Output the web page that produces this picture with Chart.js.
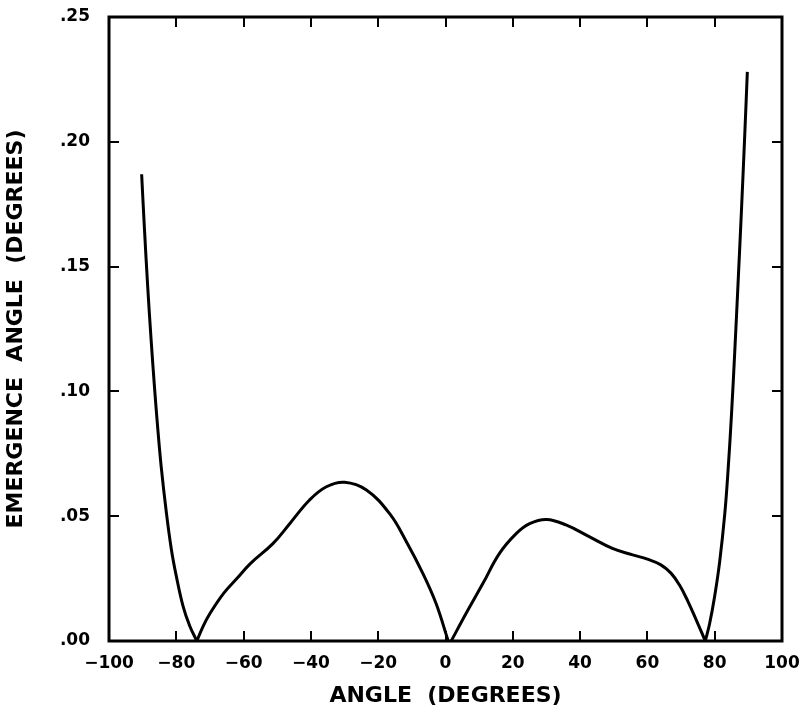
<!DOCTYPE html>
<html>
<head>
<meta charset="utf-8">
<script src="https://cdn.jsdelivr.net/npm/chart.js@4/dist/chart.umd.min.js"></script>
<style>
  html, body { margin: 0; padding: 0; background: #fff; }
  #wrap { width: 807px; height: 716px; }
</style>
</head>
<body>
<div id="wrap"><canvas id="myChart"></canvas></div>
<script>
// values; zeros mark the cusps
const angles = [
  -90.3, -89.5, -88.5, -87.5, -86.5, -85.5, -84.5, -83.0, -81.5, -80.0, -78.0, -76.0, -73.9,
  -72.0, -70.0, -66.0, -62.0, -58.0, -51.3, -46.3, -40.4, -35.4, -30.0,
  -23.5, -16.6, -11.7, -6.7, -2.8, 0.8,
  1.7, 6.1, 11.1, 16.0, 21.0, 25.0, 30.0, 35.8, 42.7, 49.6, 55.6, 60.0, 64.0,
  67.0, 69.5, 72.0, 74.5, 77.2,
  78.5, 80.0, 81.5, 83.0, 84.0, 85.0, 86.0, 87.0, 88.0, 89.0, 89.7
];
const emergence = [
  0.187, 0.166, 0.142, 0.121, 0.102, 0.085, 0.070, 0.052, 0.037, 0.026, 0.014, 0.006, 0.000,
  0.006, 0.011, 0.019, 0.025, 0.031, 0.039, 0.047, 0.0565, 0.0618, 0.0636,
  0.0605, 0.051, 0.040, 0.027, 0.015, 0.000,
  0.000, 0.011, 0.023, 0.035, 0.043, 0.047, 0.0487, 0.0465, 0.0418, 0.0371, 0.0345, 0.0328, 0.0305,
  0.0272, 0.0225, 0.0160, 0.0085, 0.000,
  0.007, 0.018, 0.032, 0.051, 0.069, 0.091, 0.117, 0.145, 0.174, 0.205, 0.228
];
const xTicks = [-100, -80, -60, -40, -20, 0, 20, 40, 60, 80, 100];
const yTicks = [0, 0.05, 0.10, 0.15, 0.20, 0.25];

// split the curve at its zeros so the cusps stay sharp
const branches = [];
let cur = [];
angles.forEach((a, i) => {
  const pt = { x: a, y: emergence[i] };
  cur.push(pt);
  if (emergence[i] === 0 && cur.length > 1 && emergence[i - 1] !== 0) {
    branches.push(cur);
    cur = (emergence[i + 1] === 0) ? [] : [pt];
  }
});
if (cur.length > 1) branches.push(cur);

const FONT = "'DejaVu Sans', sans-serif";

// frame plus inward ticks on all four sides
const frameTicks = {
  id: 'frameTicks',
  afterDatasetsDraw(chart) {
    const { ctx, chartArea: a, scales } = chart;
    const len = 10;
    ctx.save();
    ctx.strokeStyle = '#000';
    ctx.lineWidth = 2;
    ctx.beginPath();
    scales.x.ticks.forEach(t => {
      if (t.value <= scales.x.min || t.value >= scales.x.max) return;
      const px = Math.round(scales.x.getPixelForValue(t.value));
      ctx.moveTo(px, a.bottom); ctx.lineTo(px, a.bottom - len);
      ctx.moveTo(px, a.top); ctx.lineTo(px, a.top + len);
    });
    scales.y.ticks.forEach(t => {
      if (t.value <= scales.y.min || t.value >= scales.y.max) return;
      const py = Math.round(scales.y.getPixelForValue(t.value));
      ctx.moveTo(a.left, py); ctx.lineTo(a.left + len, py);
      ctx.moveTo(a.right, py); ctx.lineTo(a.right - len, py);
    });
    ctx.stroke();
    ctx.lineWidth = 3;
    ctx.strokeRect(a.left, a.top, a.right - a.left, a.bottom - a.top);
    ctx.restore();
  }
};

new Chart(document.getElementById('myChart'), {
  type: 'scatter',
  data: {
    datasets: branches.map(b => ({
      data: b,
      showLine: true,
      borderColor: '#000',
      borderWidth: 3,
      pointRadius: 0,
      tension: 0.4,
      fill: false
    }))
  },
  options: {
    responsive: true,
    maintainAspectRatio: false,
    animation: false,
    events: [],
    layout: { padding: { top: 17, right: 25, left: 0, bottom: 0 } },
    plugins: { legend: { display: false }, tooltip: { enabled: false } },
    scales: {
      x: {
        type: 'linear',
        min: -100, max: 100,
        afterBuildTicks: s => { s.ticks = xTicks.map(v => ({ value: v })); },
        afterFit: s => { s.height = 75; s.paddingLeft = 0; s.paddingRight = 0; },
        grid: { display: false, drawTicks: false },
        border: { display: false },
        ticks: {
          padding: 12,
          color: '#000',
          font: { family: FONT, size: 17, weight: 'bold' },
          callback: v => (v < 0 ? '\u2212' + Math.abs(v) : String(v))
        },
        title: {
          display: true,
          text: 'ANGLE  (DEGREES)',
          color: '#000',
          font: { family: FONT, size: 22, weight: 'bold' },
          padding: { top: 0, bottom: 7 }
        }
      },
      y: {
        type: 'linear',
        min: 0, max: 0.25,
        afterBuildTicks: s => { s.ticks = yTicks.map(v => ({ value: v })); },
        afterFit: s => { s.width = 109; s.paddingTop = 0; s.paddingBottom = 0; },
        grid: { display: false, drawTicks: false },
        border: { display: false },
        ticks: {
          padding: 19,
          color: '#000',
          font: { family: FONT, size: 17, weight: 'bold' },
          callback: v => v.toFixed(2).replace(/^0/, '')
        },
        title: {
          display: true,
          text: 'EMERGENCE  ANGLE  (DEGREES)',
          color: '#000',
          font: { family: FONT, size: 22, weight: 'bold' },
          padding: { top: 3, bottom: 0 }
        }
      }
    }
  },
  plugins: [frameTicks]
});
</script>
</body>
</html>
